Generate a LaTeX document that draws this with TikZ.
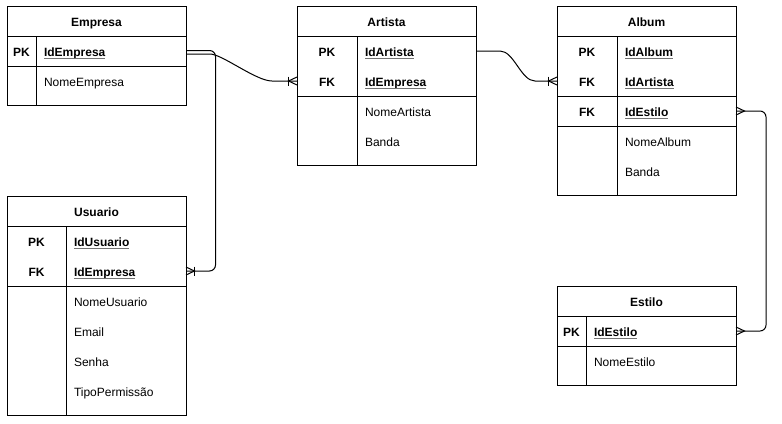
\documentclass[tikz,border=0pt]{standalone}
\usepackage{fontspec}
\setmainfont{Liberation Sans}
\usetikzlibrary{calc}
\begin{document}
\begin{tikzpicture}[x=1bp,y=-1bp,
  every node/.style={font=\fontsize{12bp}{14bp}\selectfont, inner sep=0pt, outer sep=0pt},
  tbl/.style={draw, line width=1bp, anchor=north west, minimum width=179bp},
  row/.style={anchor=north west, minimum width=179bp, minimum height=30bp},
  ttl/.style={font=\fontsize{12bp}{14bp}\selectfont\bfseries, anchor=base},
  keylab/.style={font=\fontsize{12bp}{14bp}\selectfont\bfseries, anchor=base},
  fld/.style={anchor=base west},
  keyfld/.style={font=\fontsize{12bp}{14bp}\selectfont\bfseries, anchor=base west},
  sep/.style={line width=1bp},
  uline/.style={line width=0.8bp, black!55},
  conn/.style={line width=1bp, black},
  crowE/.pic={\draw[conn] (0,-4) -- (8.5,0) -- (0,4);},
  crowW/.pic={\draw[conn] (0,-4) -- (-8.5,0) -- (0,4);},
  barE/.pic={\draw[conn] (8.5,-4.5) -- (8.5,4.5);},
  barW/.pic={\draw[conn] (-8.5,-4.5) -- (-8.5,4.5);}
]
\fill[white] (0,0) rectangle (782,423);
\useasboundingbox (0,0) rectangle (782,423);

% ---------- Empresa ----------
\node[tbl, minimum height=30bp] (emp-head) at (7,6) {};
\node[tbl, minimum height=30bp] (emp-keys) at (7,36) {};
\node[tbl, minimum height=39bp] (emp-body) at (7,66) {};
\node[row] (emp-pk) at (7,36) {};
\draw[sep] (36,36) -- (36,105);
\node[ttl] (emp-t) at (96.5,26) {Empresa};
\node[keylab] (emp-k1) at (21.5,56) {PK};
\node[keyfld] (emp-f1) at (44,56) {IdEmpresa};
\node[fld] (emp-f2) at (44,86) {NomeEmpresa};

% ---------- Artista ----------
\node[tbl, minimum height=30bp] (art-head) at (297,6) {};
\node[tbl, minimum height=60bp] (art-keys) at (297,36) {};
\node[tbl, minimum height=69bp] (art-body) at (297,96) {};
\node[row] (art-pk) at (297,36) {};
\node[row] (art-fk) at (297,66) {};
\draw[sep] (357,36) -- (357,165);
\node[ttl] (art-t) at (386.5,26) {Artista};
\node[keylab] (art-k1) at (327,56) {PK};
\node[keylab] (art-k2) at (327,86) {FK};
\node[keyfld] (art-f1) at (365,56) {IdArtista};
\node[keyfld] (art-f2) at (365,86) {IdEmpresa};
\node[fld] (art-f3) at (365,116) {NomeArtista};
\node[fld] (art-f4) at (365,146) {Banda};

% ---------- Album ----------
\node[tbl, minimum height=30bp] (alb-head) at (557,6) {};
\node[tbl, minimum height=60bp] (alb-keys) at (557,36) {};
\node[tbl, minimum height=30bp] (alb-keys2) at (557,96) {};
\node[tbl, minimum height=69bp] (alb-body) at (557,126) {};
\node[row] (alb-pk) at (557,36) {};
\node[row] (alb-fk1) at (557,66) {};
\node[row] (alb-fk2) at (557,96) {};
\draw[sep] (617,36) -- (617,195);
\node[ttl] (alb-t) at (646.5,26) {Album};
\node[keylab] (alb-k1) at (587,56) {PK};
\node[keylab] (alb-k2) at (587,86) {FK};
\node[keylab] (alb-k3) at (587,116) {FK};
\node[keyfld] (alb-f1) at (625,56) {IdAlbum};
\node[keyfld] (alb-f2) at (625,86) {IdArtista};
\node[keyfld] (alb-f3) at (625,116) {IdEstilo};
\node[fld] (alb-f4) at (625,146) {NomeAlbum};
\node[fld] (alb-f5) at (625,176) {Banda};

% ---------- Usuario ----------
\node[tbl, minimum height=30bp] (usu-head) at (7,196) {};
\node[tbl, minimum height=60bp] (usu-keys) at (7,226) {};
\node[tbl, minimum height=129bp] (usu-body) at (7,286) {};
\node[row] (usu-pk) at (7,226) {};
\node[row] (usu-fk) at (7,256) {};
\draw[sep] (66,226) -- (66,415);
\node[ttl] (usu-t) at (96.5,216) {Usuario};
\node[keylab] (usu-k1) at (36.5,246) {PK};
\node[keylab] (usu-k2) at (36.5,276) {FK};
\node[keyfld] (usu-f1) at (74,246) {IdUsuario};
\node[keyfld] (usu-f2) at (74,276) {IdEmpresa};
\node[fld] (usu-f3) at (74,306) {NomeUsuario};
\node[fld] (usu-f4) at (74,336) {Email};
\node[fld] (usu-f5) at (74,366) {Senha};
\node[fld] (usu-f6) at (74,396) {TipoPermissão};

% ---------- Estilo ----------
\node[tbl, minimum height=30bp] (est-head) at (557,286) {};
\node[tbl, minimum height=30bp] (est-keys) at (557,316) {};
\node[tbl, minimum height=39bp] (est-body) at (557,346) {};
\node[row] (est-pk) at (557,316) {};
\draw[sep] (586,316) -- (586,385);
\node[ttl] (est-t) at (646.5,306) {Estilo};
\node[keylab] (est-k1) at (571.5,336) {PK};
\node[keyfld] (est-f1) at (594,336) {IdEstilo};
\node[fld] (est-f2) at (594,366) {NomeEstilo};

% underlines of the key fields
\foreach \f in {emp-f1,art-f1,art-f2,alb-f1,alb-f2,alb-f3,usu-f1,usu-f2,est-f1}
  \draw[uline] ([yshift=-2.2bp]\f.base west) -- ([yshift=-2.2bp]\f.base east);

% ---------- relationships ----------
% Empresa -> Usuario
\draw[conn, rounded corners=6bp] ([yshift=0.5bp]emp-pk.east) -- ++(29.5,0) |- (usu-fk.east);
\pic at (usu-fk.east) {crowE};
\pic at (usu-fk.east) {barE};

% Empresa -> Artista
\draw[conn] ([yshift=-3bp]emp-pk.east) -- ++(24,0)
  .. controls +(12,0) and +(-16,0) .. ([xshift=-25bp]art-fk.west) -- (art-fk.west);
\pic at (art-fk.west) {crowW};
\pic at (art-fk.west) {barW};

% Artista -> Album
\draw[conn] (art-pk.east) -- ++(24,0)
  .. controls +(14,0) and +(-14,0) .. ([xshift=-22bp]alb-fk1.west) -- (alb-fk1.west);
\pic at (alb-fk1.west) {crowW};
\pic at (alb-fk1.west) {barW};

% Album -> Estilo
\draw[conn, rounded corners=6bp] (alb-fk2.east) -- ++(30,0) |- (est-pk.east);
\pic at (alb-fk2.east) {crowE};
\pic at (est-pk.east) {crowE};
\end{tikzpicture}
\end{document}
